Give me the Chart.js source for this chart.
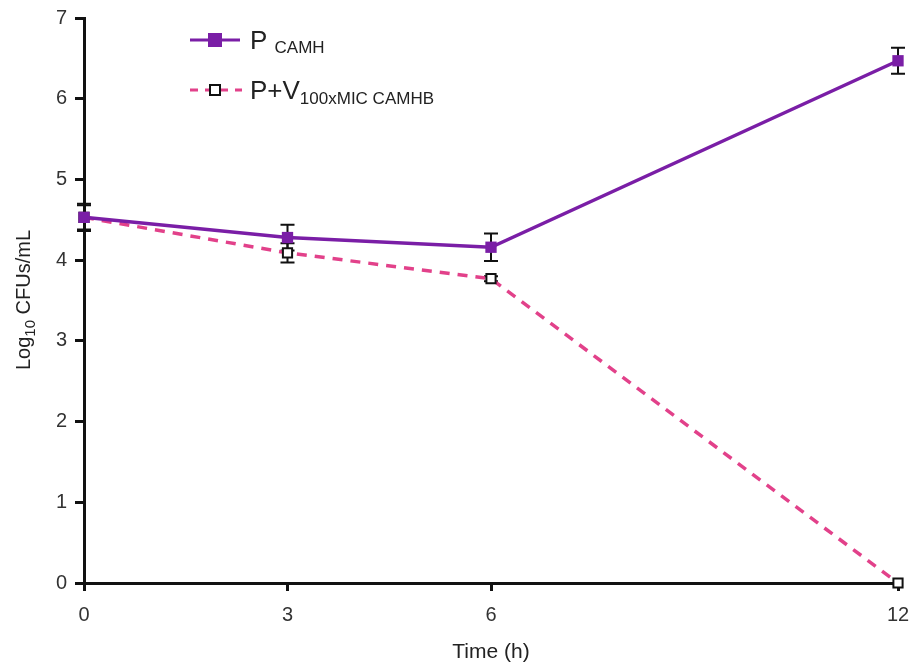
<!DOCTYPE html>
<html>
<head>
<meta charset="utf-8">
<title>Time-kill curve</title>
<script src="https://cdn.jsdelivr.net/npm/chart.js@4/dist/chart.umd.min.js"></script>
<style>
  html, body { margin: 0; padding: 0; background: #fff; }
  #wrap { width: 913px; height: 669px; position: relative; }
</style>
</head>
<body>
<div id="wrap"><canvas id="grafico"></canvas></div>
<script>
// sampling times (h) and tick positions
const tempos = [0, 3, 6, 12];
const xTicks = [0, 3, 6, 12];
const yTicks = [0, 1, 2, 3, 4, 5, 6, 7];

// log10 CFU/mL, mean and SD
const pCamh = [4.53, 4.28, 4.16, 6.47];
const pCamhErr = [0.17, 0.16, 0.17, 0.16];
const pvMic = [4.53, 4.09, 3.77, 0];
const pvMicErr = [0.15, 0.12, 0.03, 0];

const roxo = '#7a1ea6';
const rosa = '#e2418a';
const fonte = '"Liberation Sans", Arial, sans-serif';

function pontos(vals) {
  return tempos.map((t, i) => ({ x: t, y: vals[i] }));
}

// error bars, drawn under the markers
const barrasErro = {
  id: 'barrasErro',
  beforeDatasetsDraw(chart) {
    const ctx = chart.ctx;
    const xs = chart.scales.x, ys = chart.scales.y;
    const series = [[pCamh, pCamhErr], [pvMic, pvMicErr]];
    ctx.save();
    ctx.strokeStyle = '#111';
    ctx.lineWidth = 2;
    series.forEach(([vals, errs]) => {
      vals.forEach((v, i) => {
        if (!errs[i]) return;
        const x = xs.getPixelForValue(tempos[i]);
        const y1 = ys.getPixelForValue(v + errs[i]);
        const y2 = ys.getPixelForValue(v - errs[i]);
        ctx.beginPath();
        ctx.moveTo(x, y1); ctx.lineTo(x, y2);
        ctx.moveTo(x - 7, y1); ctx.lineTo(x + 7, y1);
        ctx.moveTo(x - 7, y2); ctx.lineTo(x + 7, y2);
        ctx.stroke();
      });
    });
    ctx.restore();
  }
};

// text with a lowered subscript part
function textoSub(ctx, x, y, base, sub, tam, tamSub, desce) {
  ctx.font = tam + 'px ' + fonte;
  ctx.fillText(base, x, y);
  const w = ctx.measureText(base).width;
  ctx.font = tamSub + 'px ' + fonte;
  ctx.fillText(sub, x + w, y + desce);
  const w2 = ctx.measureText(sub).width;
  return x + w + w2;
}

// legend and y axis title (both need subscripts)
const textos = {
  id: 'textos',
  afterDraw(chart) {
    const ctx = chart.ctx;
    ctx.save();
    ctx.fillStyle = '#222';
    ctx.textBaseline = 'alphabetic';

    // y title, rotated
    ctx.translate(30, 300);
    ctx.rotate(-Math.PI / 2);
    const partes = [['Log', 20, 0], ['10', 15, 5], [' CFUs/mL', 20, 0]];
    let total = 0;
    partes.forEach(p => { ctx.font = p[1] + 'px ' + fonte; total += ctx.measureText(p[0]).width; });
    let px = -total / 2;
    partes.forEach(p => {
      ctx.font = p[1] + 'px ' + fonte;
      ctx.fillText(p[0], px, p[2]);
      px += ctx.measureText(p[0]).width;
    });
    ctx.setTransform(1, 0, 0, 1, 0, 0);

    // legend samples
    ctx.lineWidth = 3;
    ctx.strokeStyle = roxo;
    ctx.beginPath(); ctx.moveTo(190, 40); ctx.lineTo(240, 40); ctx.stroke();
    ctx.fillStyle = roxo;
    ctx.fillRect(208, 33, 14, 14);

    ctx.strokeStyle = rosa;
    ctx.setLineDash([8, 7]);
    ctx.beginPath(); ctx.moveTo(190, 90); ctx.lineTo(242, 90); ctx.stroke();
    ctx.setLineDash([]);
    ctx.fillStyle = '#fff';
    ctx.fillRect(210, 85, 10, 10);
    ctx.strokeStyle = '#111';
    ctx.lineWidth = 2;
    ctx.strokeRect(210, 85, 10, 10);

    ctx.fillStyle = '#222';
    textoSub(ctx, 250, 49, 'P ', 'CAMH', 26, 17, 4);
    textoSub(ctx, 250, 99, 'P+V', '100xMIC CAMHB', 26, 17, 5);
    ctx.restore();
  }
};

const ctx = document.getElementById('grafico').getContext('2d');
new Chart(ctx, {
  type: 'line',
  data: {
    datasets: [
      {
        label: 'P CAMH',
        data: pontos(pCamh),
        borderColor: roxo,
        backgroundColor: roxo,
        borderWidth: 3.5,
        pointStyle: 'rect',
        pointRadius: 8,
        pointBorderWidth: 0,
        pointBackgroundColor: roxo,
        clip: false
      },
      {
        label: 'P+V 100xMIC CAMHB',
        data: pontos(pvMic),
        borderColor: rosa,
        borderWidth: 3.5,
        borderDash: [10, 8],
        pointStyle: 'rect',
        pointRadius: 6.5,
        pointBorderWidth: 2,
        pointBorderColor: '#111',
        pointBackgroundColor: '#fff',
        clip: false
      }
    ]
  },
  options: {
    responsive: true,
    maintainAspectRatio: false,
    animation: false,
    layout: { padding: { top: 18, right: 15, left: 0, bottom: 0 } },
    plugins: {
      legend: { display: false },
      tooltip: { enabled: false }
    },
    scales: {
      x: {
        type: 'linear',
        min: 0,
        max: 12,
        afterBuildTicks: s => { s.ticks = xTicks.map(v => ({ value: v })); },
        afterFit: s => { s.height = 86; s.paddingRight = 0; s.paddingLeft = 0; },
        grid: { drawOnChartArea: false, drawTicks: true, tickLength: 8, color: '#111', lineWidth: 3 },
        border: { color: '#111', width: 3 },
        ticks: { color: '#333', font: { family: fonte, size: 20 }, padding: 12 },
        title: { display: true, text: 'Time (h)', color: '#222', font: { family: fonte, size: 21 }, padding: { top: 0 } }
      },
      y: {
        min: 0,
        max: 7,
        afterBuildTicks: s => { s.ticks = yTicks.map(v => ({ value: v })); },
        afterFit: s => { s.width = 84; s.paddingTop = 0; s.paddingBottom = 0; },
        grid: { drawOnChartArea: false, drawTicks: true, tickLength: 9, color: '#111', lineWidth: 3 },
        border: { color: '#111', width: 3 },
        ticks: { color: '#333', font: { family: fonte, size: 20 }, padding: 8 }
      }
    }
  },
  plugins: [barrasErro, textos]
});
</script>
</body>
</html>
